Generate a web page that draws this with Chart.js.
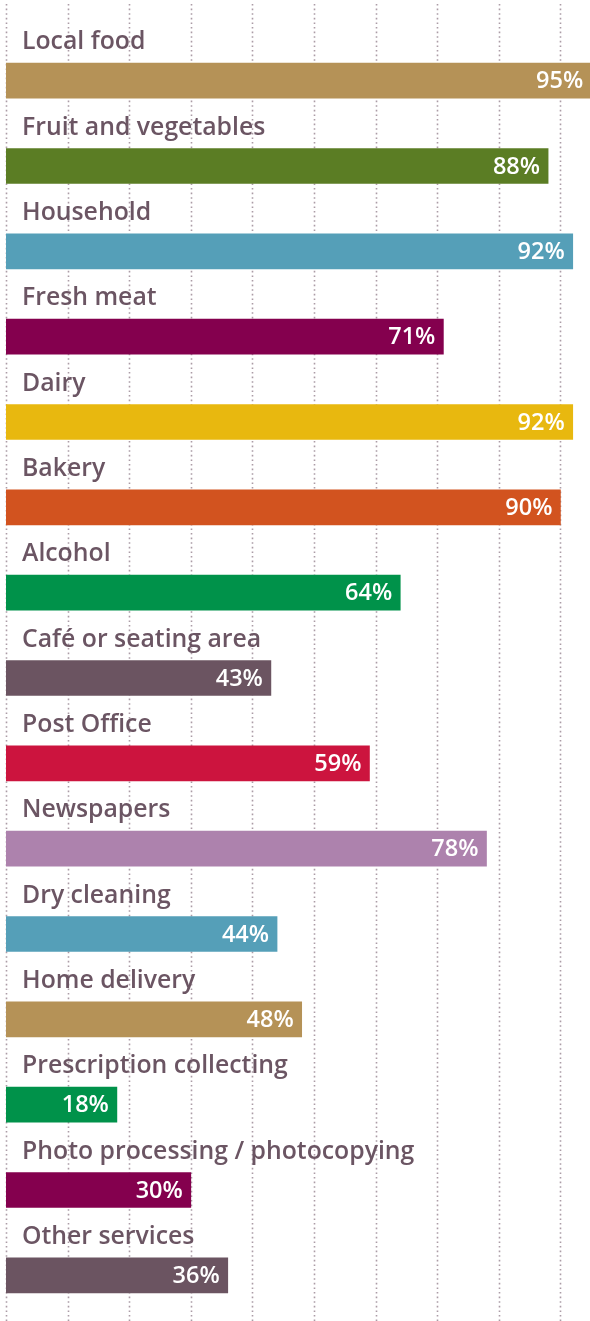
<!DOCTYPE html>
<html lang="en">
<head>
    <meta charset="UTF-8">
    <title>Services used</title>
    <script src="https://cdn.jsdelivr.net/npm/chart.js"></script>
    <style>
        body {
            margin: 0;
            background: #ffffff;
        }
        #wrap {
            width: 590px;
            height: 1321px;
        }
    </style>
</head>
<body>
    <div id="wrap">
        <canvas id="servicesChart" width="590" height="1321"></canvas>
    </div>

    <script>
        const categories = [
            'Local food', 'Fruit and vegetables', 'Household', 'Fresh meat', 'Dairy',
            'Bakery', 'Alcohol', 'Café or seating area', 'Post Office', 'Newspapers',
            'Dry cleaning', 'Home delivery', 'Prescription collecting',
            'Photo processing / photocopying', 'Other services'
        ];
        const values = [95, 88, 92, 71, 92, 90, 64, 43, 59, 78, 44, 48, 18, 30, 36];
        const barColors = [
            '#b59257', '#5b7d24', '#559fb8', '#84004e', '#e8b80f',
            '#d2531f', '#00924a', '#6b5461', '#cc143e', '#ad82ad',
            '#559fb8', '#b59257', '#00924a', '#84004e', '#6b5461'
        ];
        const gridTicks = [0, 10, 20, 30, 40, 50, 60, 70, 80, 90];

        const textColor = '#6b5563';
        const fontFamily = '"Open Sans", sans-serif';

        // dotted vertical lines, full height of the canvas
        const dottedGrid = {
            id: 'dottedGrid',
            beforeDatasetsDraw(chart) {
                const ctx = chart.ctx;
                const xScale = chart.scales.x;
                ctx.save();
                ctx.strokeStyle = '#ab9ca6';
                ctx.lineWidth = 1.6;
                ctx.setLineDash([1.6, 3]);
                gridTicks.forEach((t) => {
                    const x = Math.round(xScale.getPixelForValue(t)) + 0.5;
                    ctx.beginPath();
                    ctx.moveTo(x, 4);
                    ctx.lineTo(x, chart.height);
                    ctx.stroke();
                });
                ctx.restore();
            }
        };

        // category name above each bar and value inside the bar end
        const barLabels = {
            id: 'barLabels',
            afterDatasetsDraw(chart) {
                const ctx = chart.ctx;
                const meta = chart.getDatasetMeta(0);
                ctx.save();
                meta.data.forEach((bar, i) => {
                    const top = bar.y - bar.height / 2;
                    ctx.font = '600 24.8px ' + fontFamily;
                    ctx.fillStyle = textColor;
                    ctx.textAlign = 'left';
                    ctx.textBaseline = 'alphabetic';
                    ctx.fillText(categories[i], 22, top - 14);

                    ctx.font = '600 23.5px ' + fontFamily;
                    ctx.fillStyle = '#ffffff';
                    ctx.textAlign = 'right';
                    ctx.textBaseline = 'middle';
                    ctx.fillText(values[i] + '%', bar.x - 8, bar.y + 1);
                });
                ctx.restore();
            }
        };

        const ctx = document.getElementById('servicesChart').getContext('2d');
        new Chart(ctx, {
            type: 'bar',
            data: {
                labels: categories,
                datasets: [{
                    data: values,
                    backgroundColor: barColors,
                    borderWidth: 0,
                    barThickness: 35
                }]
            },
            options: {
                indexAxis: 'y',
                responsive: false,
                animation: false,
                layout: {
                    padding: { top: 38, bottom: 3, left: 6, right: 0 }
                },
                scales: {
                    x: {
                        display: false,
                        min: 0,
                        max: 94.8
                    },
                    y: {
                        display: false
                    }
                },
                plugins: {
                    legend: { display: false },
                    tooltip: { enabled: false }
                }
            },
            plugins: [dottedGrid, barLabels]
        });
    </script>
</body>
</html>
